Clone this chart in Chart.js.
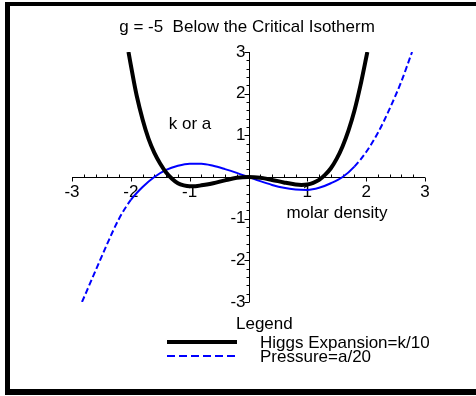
<!DOCTYPE html>
<html>
<head>
<meta charset="utf-8">
<script src="https://cdn.jsdelivr.net/npm/chart.js@4"></script>
<style>
  html, body { margin: 0; padding: 0; background: #fff; }
  #wrap { position: relative; width: 476px; height: 396px; overflow: hidden; }
  #frame {
    position: absolute; left: 5px; top: 2px; width: 520px; height: 383px;
    border-top: 4px solid #000; border-left: 5px solid #000; border-bottom: 6px solid #000;
    pointer-events: none;
  }
</style>
</head>
<body>
<div id="wrap">
  <canvas id="c" width="476" height="396"></canvas>
  <div id="frame"></div>
</div>
<script>
// values
const higgsX = [-2.04, -1.95, -1.9, -1.8, -1.7, -1.6, -1.5, -1.4, -1.3, -1.2, -1.1, -1.0, -0.9, -0.8, -0.6, -0.4, -0.2, 0,
                0.2, 0.4, 0.6, 0.8, 0.9, 1.0, 1.1, 1.2, 1.3, 1.4, 1.5, 1.6, 1.7, 1.8, 1.9, 2.02];
const higgsY = [3.0, 2.3, 1.95, 1.38, 0.92, 0.58, 0.32, 0.11, -0.04, -0.15, -0.2, -0.22, -0.22, -0.2, -0.15, -0.08, -0.02, 0,
                -0.02, -0.07, -0.13, -0.18, -0.19, -0.18, -0.14, -0.07, 0.05, 0.21, 0.44, 0.74, 1.12, 1.59, 2.18, 3.0];

const pressX = [-2.83, -2.6, -2.4, -2.2, -2.0, -1.8, -1.6, -1.4, -1.2, -1.0, -0.8, -0.6, -0.4, -0.2, 0,
                0.2, 0.4, 0.6, 0.8, 1.0, 1.2, 1.4, 1.6, 1.8, 2.0, 2.2, 2.4, 2.6, 2.78];
const pressY = [-3.0, -2.25, -1.6, -1.0, -0.55, -0.24, 0, 0.17, 0.27, 0.32, 0.32, 0.27, 0.19, 0.1, 0,
                -0.1, -0.19, -0.26, -0.3, -0.31, -0.26, -0.15, 0, 0.25, 0.6, 1.06, 1.64, 2.3, 3.0];

const xTicks = [-3, -2, -1, 1, 2, 3];
const yTicks = [-3, -2, -1, 1, 2, 3];

const FONT = "17px 'Liberation Sans', Arial, sans-serif";

const toPoints = (xs, ys) => xs.map((x, i) => ({ x: x, y: ys[i] }));

// Maple-style axes crossing at the origin, with minor ticks
const mapleAxes = {
  id: "mapleAxes",
  beforeDatasetsDraw(chart) {
    const { ctx, scales: { x, y } } = chart;
    const x0 = Math.round(x.getPixelForValue(0)) + 0.5;
    const y0 = Math.round(y.getPixelForValue(0)) + 0.5;
    ctx.save();
    ctx.strokeStyle = "#000";
    ctx.lineWidth = 1;
    ctx.beginPath();
    ctx.moveTo(x.getPixelForValue(-3), y0);
    ctx.lineTo(x.getPixelForValue(3), y0);
    ctx.moveTo(x0, y.getPixelForValue(-3));
    ctx.lineTo(x0, y.getPixelForValue(3));
    for (let i = -15; i <= 15; i++) {
      const v = i / 5;
      const px = Math.round(x.getPixelForValue(v)) + 0.5;
      const py = Math.round(y.getPixelForValue(v)) + 0.5;
      if (i % 5 === 0) {
        ctx.moveTo(px, y0); ctx.lineTo(px, y0 + 4);
        ctx.moveTo(x0, py); ctx.lineTo(x0 - 5, py);
      } else {
        ctx.moveTo(px, y0); ctx.lineTo(px, y0 - 3);
        ctx.moveTo(x0, py); ctx.lineTo(x0 - 3, py);
      }
    }
    ctx.stroke();

    ctx.fillStyle = "#000";
    ctx.font = FONT;
    ctx.textAlign = "center";
    ctx.textBaseline = "top";
    xTicks.forEach(v => ctx.fillText(String(v), x.getPixelForValue(v), y0 + 6));
    ctx.textAlign = "right";
    ctx.textBaseline = "middle";
    yTicks.forEach(v => ctx.fillText(String(v), x0 - 4, y.getPixelForValue(v)));
    ctx.restore();
  },
  afterDraw(chart) {
    const { ctx } = chart;
    ctx.save();
    ctx.fillStyle = "#000";
    ctx.font = FONT;
    ctx.textBaseline = "middle";
    ctx.textAlign = "center";
    ctx.fillText("g = -5  Below the Critical Isotherm", 247, 27);
    ctx.fillText("k or a", 190, 124);
    ctx.fillText("molar density", 337, 213);
    ctx.textAlign = "left";
    ctx.fillText("Legend", 236, 324);

    chart.data.datasets.forEach((ds, i) => {
      const ly = 342 + i * 14;
      ctx.strokeStyle = ds.borderColor;
      ctx.lineWidth = ds.borderWidth;
      ctx.setLineDash(i === 1 ? [8, 4] : []);
      ctx.beginPath();
      ctx.moveTo(167, ly);
      ctx.lineTo(237, ly);
      ctx.stroke();
      ctx.setLineDash([]);
      ctx.fillText(ds.label, 260, ly + 1);
    });
    ctx.restore();
  }
};

new Chart(document.getElementById("c"), {
  type: "line",
  data: {
    datasets: [
      {
        label: "Higgs Expansion=k/10",
        data: toPoints(higgsX, higgsY),
        borderColor: "#000000",
        borderWidth: 4,
        pointRadius: 0,
        cubicInterpolationMode: "monotone"
      },
      {
        label: "Pressure=a/20",
        data: toPoints(pressX, pressY),
        borderColor: "#0000ff",
        borderWidth: 2,
        pointRadius: 0,
        cubicInterpolationMode: "monotone",
        segment: {
          borderDash: c => (c.p0.parsed.x < -2.0 || c.p0.parsed.x >= 1.8) ? [6, 3] : undefined
        }
      }
    ]
  },
  options: {
    responsive: false,
    animation: false,
    events: [],
    layout: { padding: { left: 72, right: 51, top: 52, bottom: 94 } },
    plugins: {
      legend: { display: false },
      tooltip: { enabled: false }
    },
    scales: {
      x: { type: "linear", min: -3, max: 3, display: false },
      y: { type: "linear", min: -3, max: 3, display: false }
    }
  },
  plugins: [mapleAxes]
});
</script>
</body>
</html>
